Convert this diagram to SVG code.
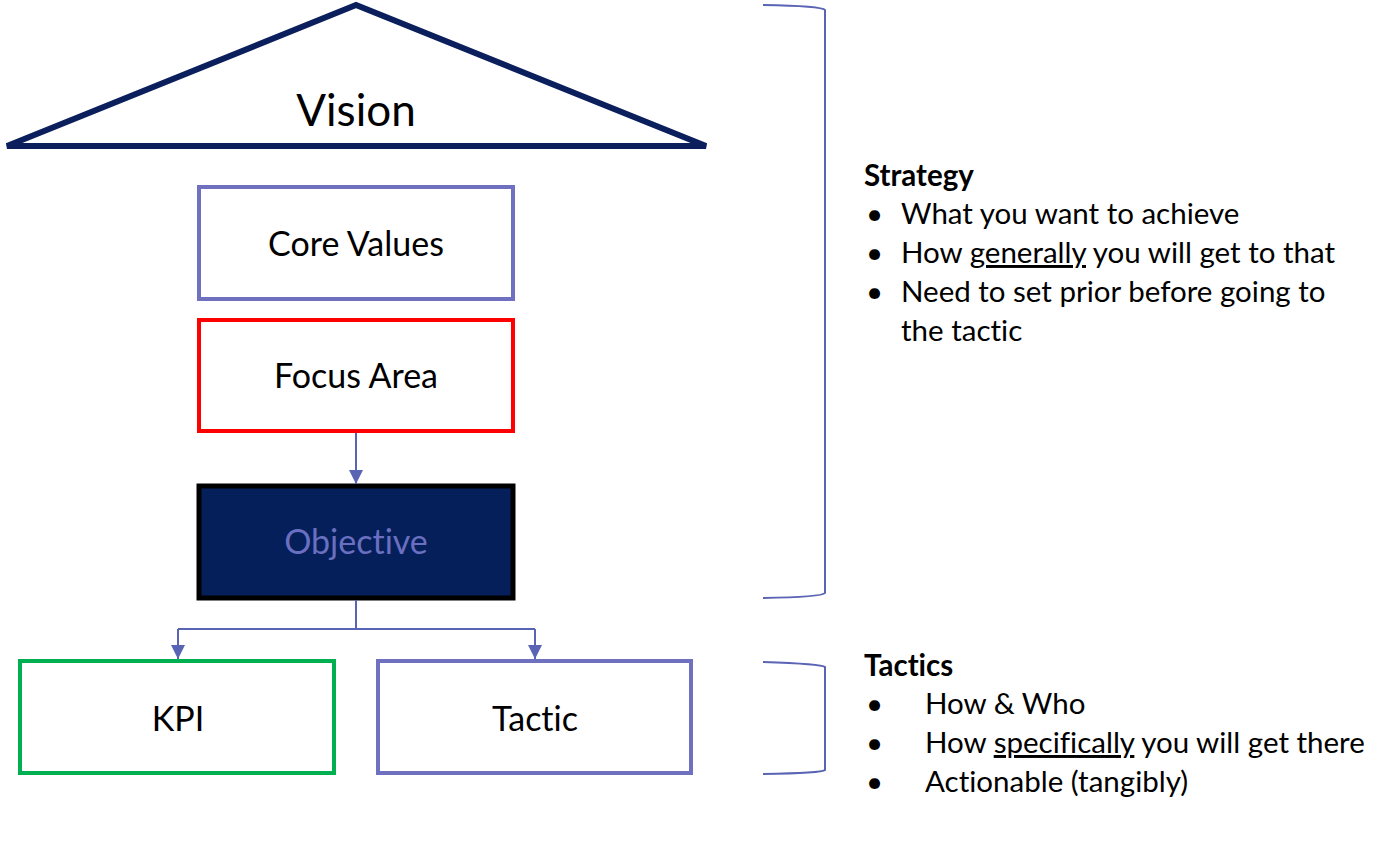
<svg xmlns="http://www.w3.org/2000/svg" width="1400" height="852" viewBox="0 0 1400 852">
<style>
text{font-variant-ligatures:none;font-feature-settings:"liga" 0,"dlig" 0}
.lbl{font-family:Lato,"Open Sans","Liberation Sans",sans-serif;font-size:34px;fill:#000;text-anchor:middle}
.t{font-family:Lato,"Open Sans","Liberation Sans",sans-serif;font-size:29.5px;fill:#000}
.b{font-weight:bold}
.u{text-decoration:underline;text-decoration-skip-ink:none}
.con{stroke:#5a64b4;stroke-width:2;fill:none}
.br{stroke:#5a64b4;stroke-width:2;fill:none}
</style>
<defs>
<marker id="ar2" markerWidth="16" markerHeight="14" refX="14" refY="7" orient="auto" markerUnits="userSpaceOnUse" viewBox="0 0 14 14">
<path d="M0,0 L14,7 L0,14 z" fill="#5a64b4"/>
</marker>
</defs>
<rect width="1400" height="852" fill="#fff"/>
<g id="vision">
<polygon points="356,5 7,146 706,146" fill="#fff" stroke="#0a1f5c" stroke-width="6"/>
<text class="lbl" x="356" y="126" style="font-size:44px">Vision</text>
</g>
<g id="core-values">
<rect x="199" y="187" width="314" height="112" fill="#fff" stroke="#6f70c0" stroke-width="4"/>
<text class="lbl" x="356" y="256">Core Values</text>
</g>
<g id="focus-area">
<rect x="199" y="320" width="314" height="111" fill="#fff" stroke="#ff0000" stroke-width="4"/>
<text class="lbl" x="356" y="388">Focus Area</text>
</g>
<g id="objective">
<rect x="199" y="486" width="314" height="112" fill="#041f5a" stroke="#000" stroke-width="5"/>
<text class="lbl" x="356" y="554" style="fill:#6b6fc0">Objective</text>
</g>
<g id="kpi">
<rect x="20" y="661" width="314" height="112" fill="#fff" stroke="#00b050" stroke-width="4"/>
<text class="lbl" x="178" y="731">KPI</text>
</g>
<g id="tactic">
<rect x="378" y="661" width="313" height="112" fill="#fff" stroke="#6f70c0" stroke-width="4"/>
<text class="lbl" x="535" y="731">Tactic</text>
</g>
<g id="connectors">
<line class="con" x1="356" y1="433" x2="356" y2="484" marker-end="url(#ar2)"/>
<polyline class="con" points="356,600 356,629"/>
<polyline class="con" points="178,629 535,629"/>
<line class="con" x1="178" y1="629" x2="178" y2="659" marker-end="url(#ar2)"/>
<line class="con" x1="535" y1="629" x2="535" y2="659" marker-end="url(#ar2)"/>
</g>
<g id="brackets">
<path class="br" d="M763,5 Q822,6 825,10 L825,593 Q822,597 763,598"/>
<path class="br" d="M763,662 Q822,664 825,667 L825,770 Q822,773 763,774"/>
</g>
<g id="strategy-text">
<text class="t b" x="864" y="186">Strategy</text>
<text class="t" x="866" y="224">•</text><text class="t" x="901" y="224">What you want to achieve</text>
<text class="t" x="866" y="263">•</text><text class="t" x="901" y="263">How <tspan class="u">generally</tspan> you will get to that</text>
<text class="t" x="866" y="302">•</text><text class="t" x="901" y="302">Need to set prior before going to</text>
<text class="t" x="901" y="341">the tactic</text>
</g>
<g id="tactics-text">
<text class="t b" x="864" y="676">Tactics</text>
<text class="t" x="866" y="714">•</text><text class="t" x="925" y="714">How &amp; Who</text>
<text class="t" x="866" y="753">•</text><text class="t" x="925" y="753">How <tspan class="u">specifically</tspan> you will get there</text>
<text class="t" x="866" y="792">•</text><text class="t" x="925" y="792">Actionable (tangibly)</text>
</g>
</svg>
